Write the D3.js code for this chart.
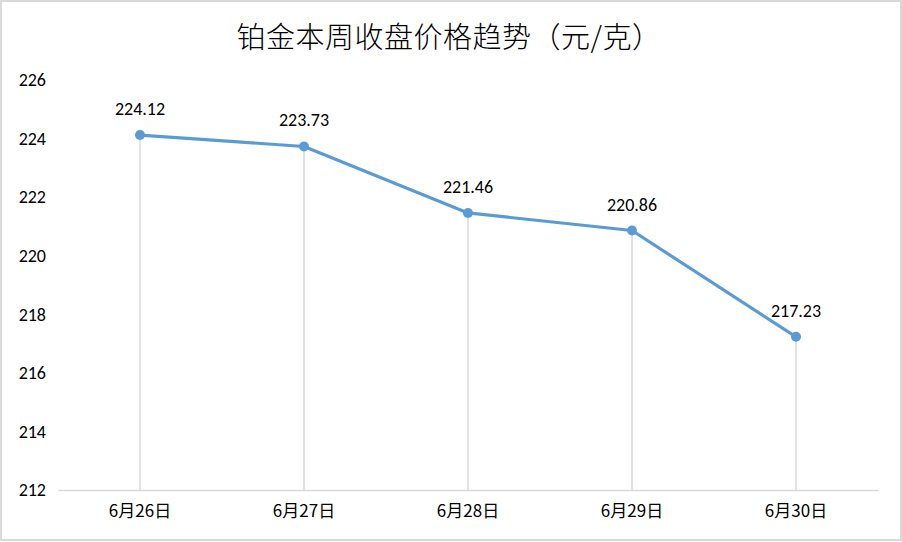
<!DOCTYPE html>
<html><head><meta charset="utf-8">
<script src="https://cdn.jsdelivr.net/npm/d3@7"></script>
<style>body{margin:0;background:#fff}svg{display:block}</style>
</head><body>
<script>
const title = "铂金本周收盘价格趋势（元/克）";
const categories = ["6月26日","6月27日","6月28日","6月29日","6月30日"];
const values = [224.12, 223.73, 221.46, 220.86, 217.23];
const yTicks = [212,214,216,218,220,222,224,226];

const W = 902, H = 542;
const svg = d3.select("body").append("svg").attr("width", W).attr("height", H);
svg.append("rect").attr("x",1).attr("y",1).attr("width",W-2).attr("height",H-3)
  .attr("fill","#fff").attr("stroke","#d9d9d9").attr("stroke-width",2);

const x = d3.scaleBand().domain(categories).range([58, 878]);
const y = d3.scaleLinear().domain([212, 226]).range([490, 80]);
const font = "'Noto Sans CJK SC', 'Noto Sans', sans-serif";
const numFont = "Calibri, Carlito, 'Noto Sans', sans-serif";

svg.append("text").attr("x", 449).attr("y", 48).attr("text-anchor","middle")
  .attr("font-family", font).attr("font-size", 29).attr("font-weight", 300).attr("fill","#000").attr("letter-spacing", 0.5)
  .text(title);

// y labels
const yAxis = svg.append("g").attr("transform","translate(46,0)")
  .call(d3.axisLeft(y).tickValues(yTicks).tickSize(0).tickPadding(0));
yAxis.select(".domain").remove();
yAxis.selectAll("text").attr("font-family", numFont).attr("font-size", 18).attr("fill","#000");

// drop lines
svg.append("g").selectAll("line").data(values).join("line")
  .attr("x1",(d,i)=>x(categories[i])+x.bandwidth()/2)
  .attr("x2",(d,i)=>x(categories[i])+x.bandwidth()/2)
  .attr("y1", d=>y(d)).attr("y2", y(212))
  .attr("stroke","#d9d9d9").attr("stroke-width",1.5);

// x axis
const xAxis = svg.append("g").attr("transform",`translate(0,${y(212)})`)
  .call(d3.axisBottom(x).tickSize(0).tickPadding(15));
xAxis.select(".domain").attr("stroke","#d9d9d9").attr("stroke-width",1.5);
xAxis.selectAll("text").attr("font-family", font).attr("font-size", 17).attr("fill","#000");

// line
const pts = values.map((v,i)=>[x(categories[i])+x.bandwidth()/2, y(v)]);
svg.append("path").attr("d", d3.line()(pts)).attr("fill","none")
  .attr("stroke","#5b9bd5").attr("stroke-width",3.2).attr("stroke-linejoin","round");
svg.append("g").selectAll("circle").data(pts).join("circle")
  .attr("cx",d=>d[0]).attr("cy",d=>d[1]).attr("r",5).attr("fill","#5b9bd5");

// labels
svg.append("g").selectAll("text").data(values).join("text")
  .attr("x",(d,i)=>pts[i][0]).attr("y",(d,i)=>pts[i][1]-20)
  .attr("text-anchor","middle").attr("font-family",numFont)
  .attr("font-size",18).attr("fill","#000").text(d=>d.toFixed(2));
</script>
</body></html>
